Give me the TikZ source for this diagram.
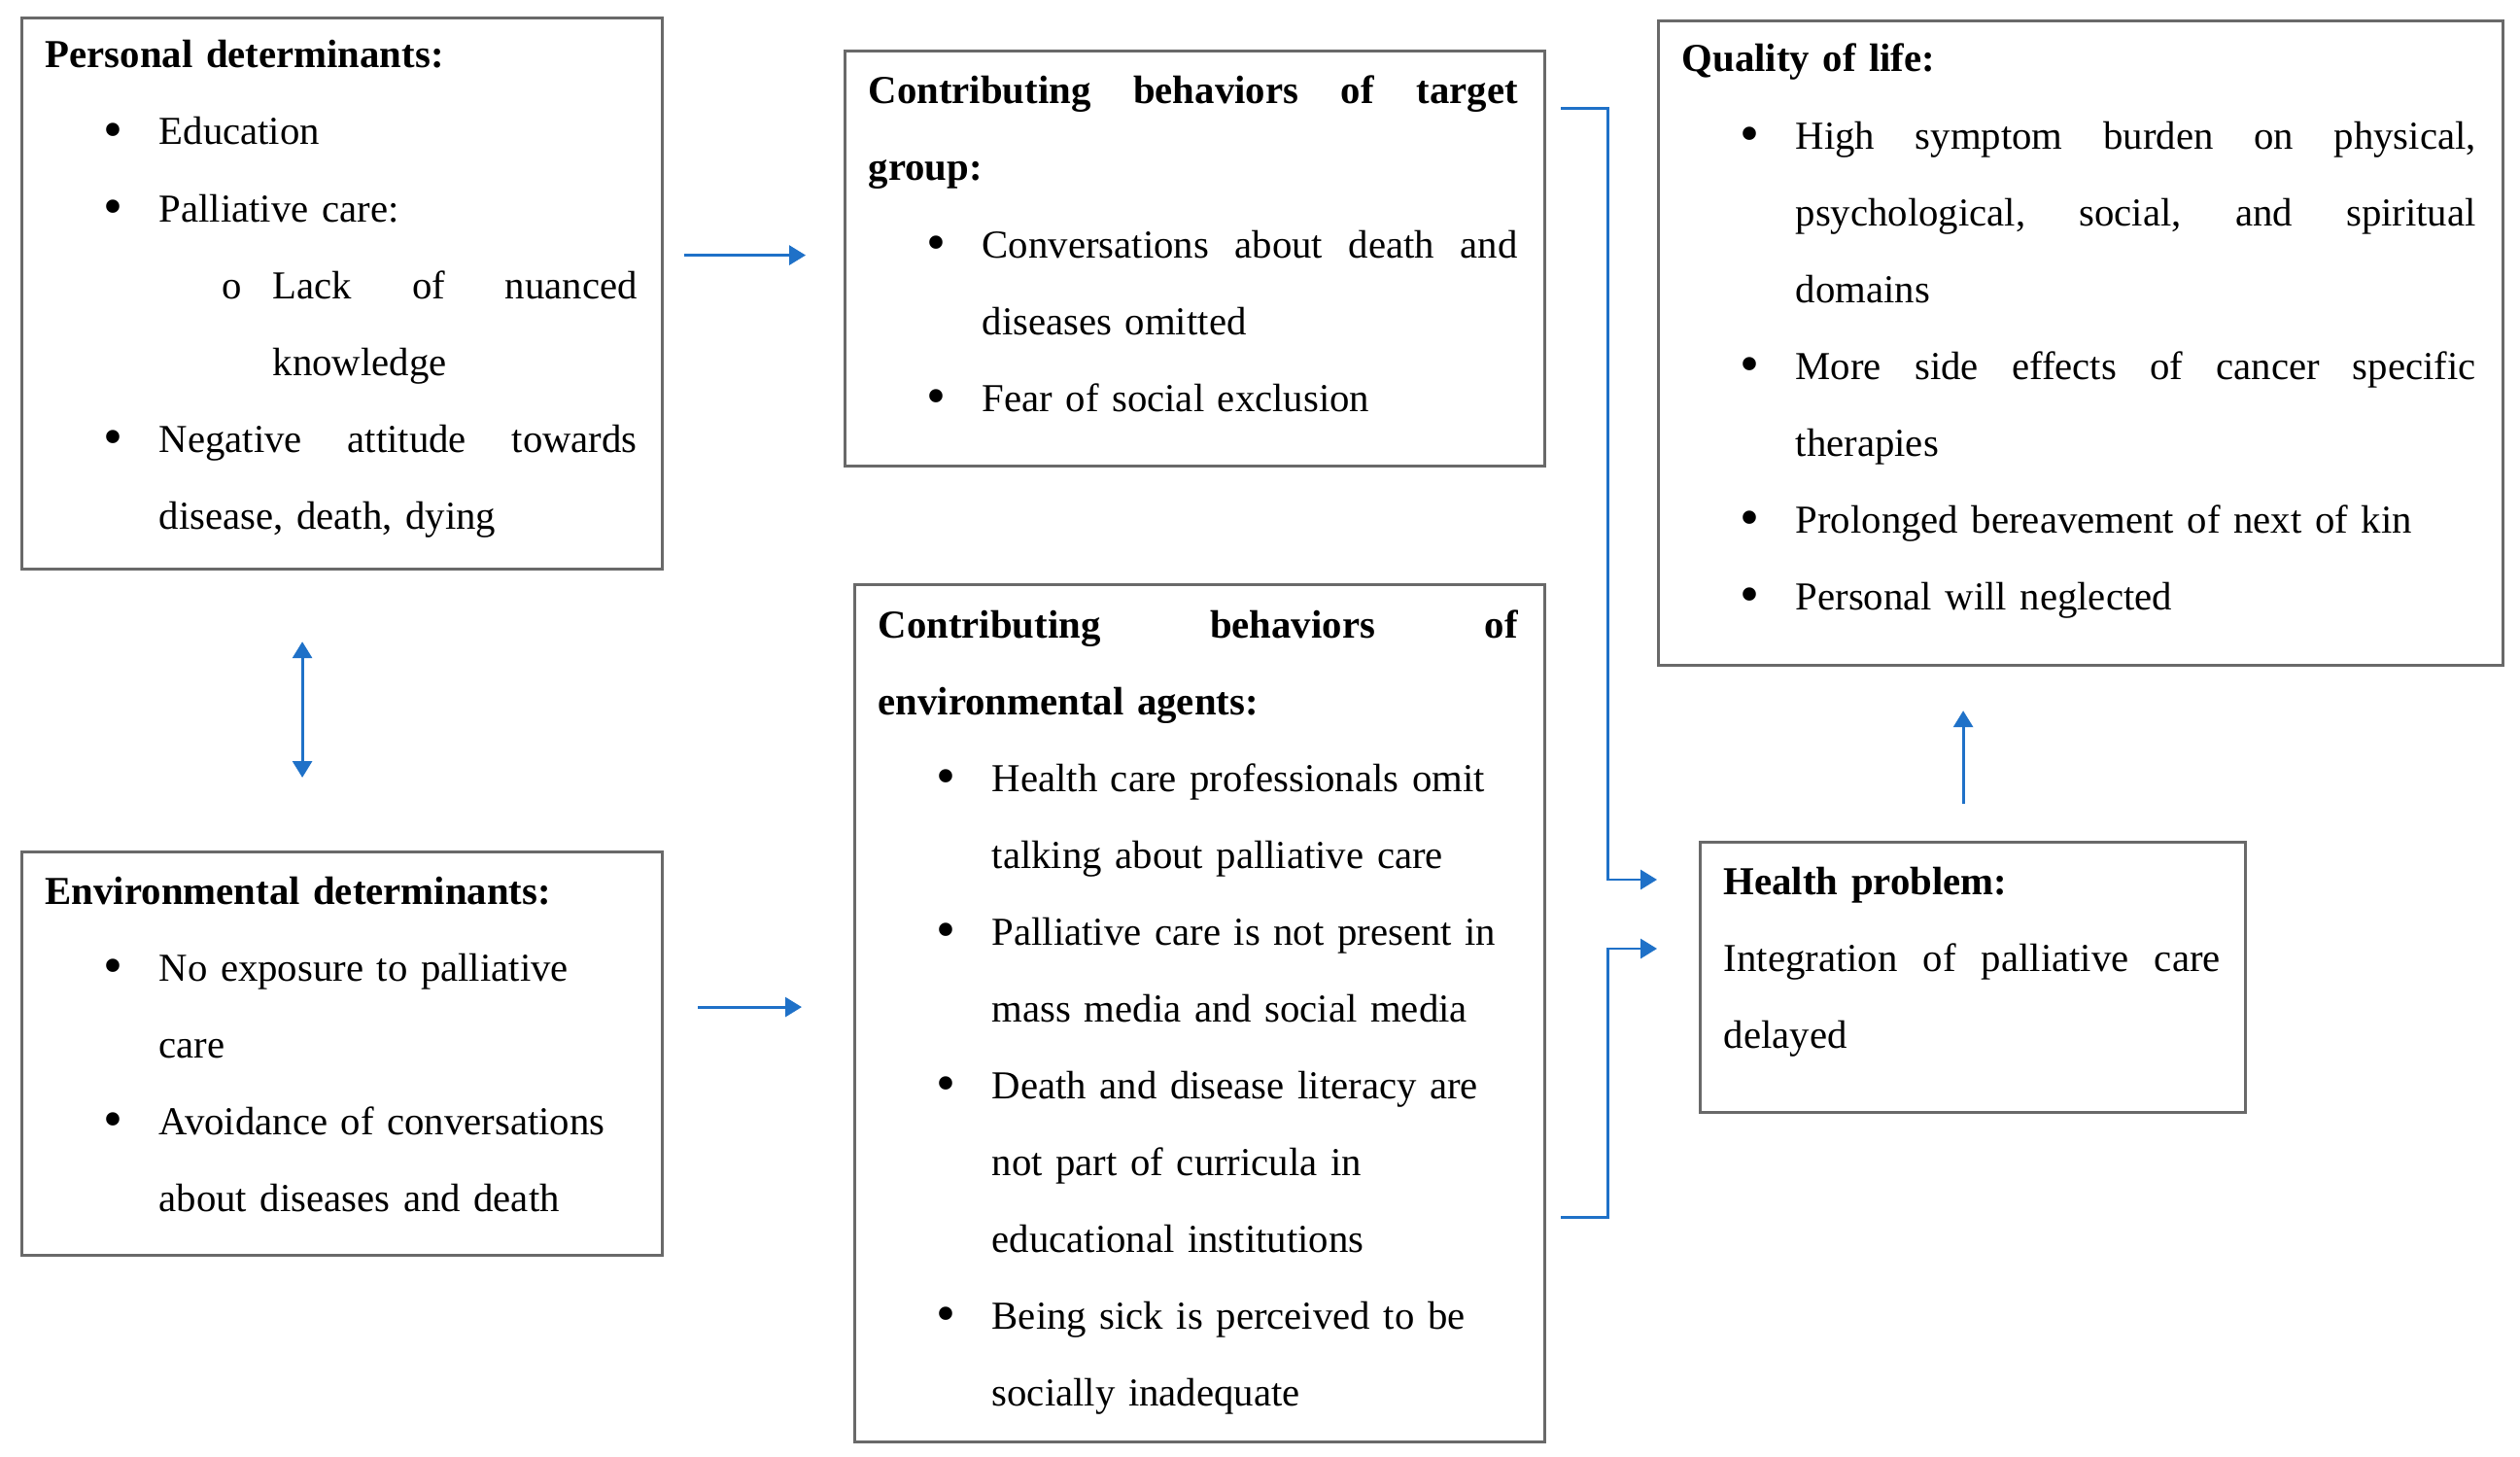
\documentclass[tikz,border=0pt]{standalone}
\usepackage{graphicx}
\usepackage{fontspec}
\setmainfont{Liberation Serif}
\usetikzlibrary{arrows.meta,positioning,calc}
\definecolor{FlowBlue}{RGB}{31,113,200}
\definecolor{BoxGray}{RGB}{105,105,105}

\newcommand{\dotmark}{\raisebox{-0.09em}{\scalebox{1.4}{\textbullet}}}
\newcommand{\sprd}[2]{\makebox[#1][s]{#2}}
\newcommand{\bpt}[1]{\hspace*{0.6cm}\makebox[0.57cm][l]{\dotmark}#1}
\newcommand{\bsprd}[2]{\hspace*{0.6cm}\makebox[0.57cm][l]{\dotmark}\makebox[#1][s]{#2}}
\newcommand{\bcont}[1]{\hspace*{1.17cm}#1}
\newcommand{\csprd}[2]{\hspace*{1.17cm}\makebox[#1][s]{#2}}
\newcommand{\subsprd}[2]{\hspace*{1.82cm}\makebox[0.52cm][l]{o}\makebox[#1][s]{#2}}
\newcommand{\subcont}[1]{\hspace*{2.34cm}#1}

\begin{document}
\begin{tikzpicture}[font=\fontsize{11.6}{22.48}\selectfont,
  box/.style={draw=BoxGray,line width=0.9pt,anchor=north west,inner sep=0pt},
  txt/.style={anchor=base west,inner sep=0pt},
  flow/.style={draw=FlowBlue,line width=0.85pt,-{Triangle[length=1.7mm,width=2mm]}}]
      \useasboundingbox (0,0) rectangle (25.93,-14.99);

      \node[box,minimum width=6.59cm,minimum height=5.67cm] (pers) at (0.21,-0.17) {};
      \node[box,minimum width=7.20cm,minimum height=4.27cm] (target) at (8.68,-0.51) {};
      \node[box,minimum width=8.69cm,minimum height=6.63cm] (quality) at (17.05,-0.20) {};
      \node[box,minimum width=6.59cm,minimum height=4.15cm] (env) at (0.21,-8.75) {};
      \node[box,minimum width=7.10cm,minimum height=8.82cm] (agents) at (8.78,-6.00) {};
      \node[box,minimum width=5.61cm,minimum height=2.78cm] (health) at (17.48,-8.65) {};

      \node[txt,text width=6.09cm] (perstxt) at (0.46,-0.70)
        {\textbf{Personal determinants:}\\
         \bpt{Education}\\
         \bpt{Palliative care:}\\
         \subsprd{3.75cm}{Lack\hfill of\hfill nuanced}\\
         \subcont{knowledge}\\
         \bsprd{4.92cm}{Negative\hfill attitude\hfill towards}\\
         \bcont{disease, death, dying}};
      \node[txt,text width=6.68cm] (targettxt) at (8.93,-1.07)
        {\sprd{6.68cm}{\bfseries Contributing\hfill behaviors\hfill of\hfill target}\\
         \textbf{group:}\\
         \bsprd{5.51cm}{Conversations\hfill about\hfill death\hfill and}\\
         \bcont{diseases omitted}\\
         \bpt{Fear of social exclusion}};
      \node[txt,text width=8.17cm] (qualitytxt) at (17.30,-0.74)
        {\textbf{Quality of life:}\\
         \bsprd{7.00cm}{High\hfill symptom\hfill burden\hfill on\hfill physical,}\\
         \csprd{7.00cm}{psychological,\hfill social,\hfill and\hfill spiritual}\\
         \bcont{domains}\\
         \bsprd{7.00cm}{More\hfill side\hfill effects\hfill of\hfill cancer\hfill specific}\\
         \bcont{therapies}\\
         \bpt{Prolonged bereavement of next of kin}\\
         \bpt{Personal will neglected}};
      \node[txt,text width=6.09cm] (envtxt) at (0.46,-9.30)
        {\textbf{Environmental determinants:}\\
         \bpt{No exposure to palliative}\\
         \bcont{care}\\
         \bpt{Avoidance of conversations}\\
         \bcont{about diseases and death}};
      \node[txt,text width=6.58cm] (agentstxt) at (9.03,-6.56)
        {\sprd{6.58cm}{\bfseries Contributing\hfill behaviors\hfill of}\\
         \textbf{environmental agents:}\\
         \bpt{Health care professionals omit}\\
         \bcont{talking about palliative care}\\
         \bpt{Palliative care is not present in}\\
         \bcont{mass media and social media}\\
         \bpt{Death and disease literacy are}\\
         \bcont{not part of curricula in}\\
         \bcont{educational institutions}\\
         \bpt{Being sick is perceived to be}\\
         \bcont{socially inadequate}};
      \node[txt,text width=5.11cm] (healthtxt) at (17.73,-9.20)
        {\textbf{Health problem:}\\
         \sprd{5.11cm}{Integration\hfill of\hfill palliative\hfill care}\\
         delayed};

      \coordinate (p1) at ([yshift=0.395cm]pers.east);
      \coordinate (e1) at ([yshift=0.48cm]env.east);
      \coordinate (h1) at ([xshift=-0.10cm]health.north);

      \draw[flow,shorten <=0.21cm,shorten >=0.39cm] (p1) -- (p1 -| target.west);
      \draw[flow,shorten <=0.35cm,shorten >=0.53cm] (e1) -- (e1 -| agents.west);
      \draw[flow,{Triangle[length=1.7mm,width=2mm]}-{Triangle[length=1.7mm,width=2mm]},shorten <=0.73cm,shorten >=0.75cm]
        ([xshift=-0.41cm]pers.south) -- ([xshift=-0.41cm]env.north);
      \draw[flow,shorten <=0.38cm,shorten >=0.45cm] (h1) -- (h1 |- quality.south);
      \draw[flow] ([shift={(0.15,-0.61)}]target.north east) -| ([shift={(-0.94,-0.40)}]health.north west)
        -- ([shift={(-0.43,-0.40)}]health.north west);
      \draw[flow] ([shift={(0.15,-6.52)}]agents.north east) -| ([shift={(-0.94,-1.11)}]health.north west)
        -- ([shift={(-0.43,-1.11)}]health.north west);
    \end{tikzpicture}
\end{document}
